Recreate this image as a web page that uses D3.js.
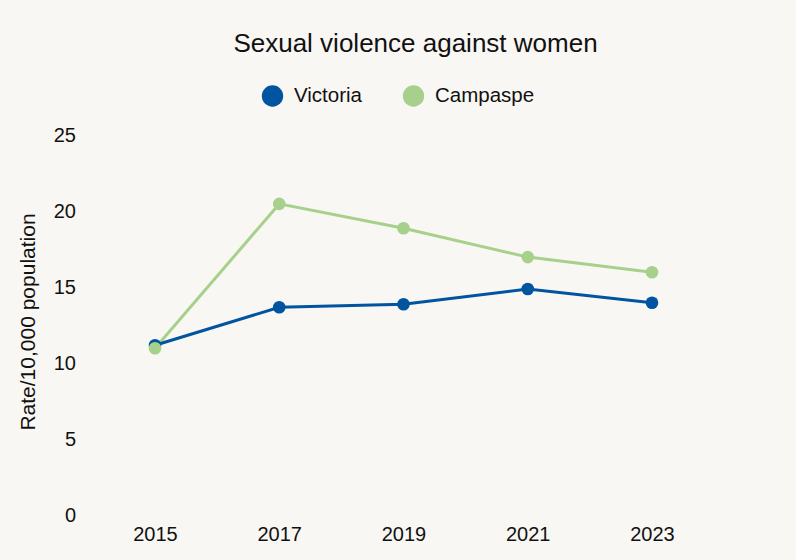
<!DOCTYPE html>
<html><head><meta charset="utf-8">
<script src="https://cdn.jsdelivr.net/npm/d3@7"></script>
<style>body{margin:0;background:#f9f7f3;}svg{display:block;}text{font-family:"Liberation Sans",Arial,sans-serif;fill:#111;}</style>
</head><body>
<svg id="c" width="796" height="560"></svg>
<script>
const years = ["2015","2017","2019","2021","2023"];
const victoria = [11.2, 13.7, 13.9, 14.9, 14.0];
const campaspe = [11.0, 20.5, 18.9, 17.0, 16.0];
const yTicks = [0,5,10,15,20,25];
const seriesNames = ["Victoria","Campaspe"];
const colors = ["#0054a0","#a8d08d"];

const svg = d3.select("#c");
svg.append("rect").attr("width",796).attr("height",560).attr("fill","#f9f7f3");
const x = d3.scalePoint().domain(years).range([155,652]);
const y = d3.scaleLinear().domain([0,25]).range([515.5,135.5]);

svg.append("text").attr("x",415.5).attr("y",52).attr("text-anchor","middle")
  .style("font-size","26px").text("Sexual violence against women");

// legend
const leg = [{x:272.5},{x:413.5}];
seriesNames.forEach((n,i)=>{
  svg.append("circle").attr("cx",leg[i].x).attr("cy",96).attr("r",10.7).attr("fill",colors[i]);
  svg.append("text").attr("x",leg[i].x+21.5).attr("y",102).style("font-size","20.5px").text(n);
});

// y axis
const ya = svg.append("g").attr("transform","translate(76,0)")
  .call(d3.axisLeft(y).tickValues(yTicks).tickSize(0).tickPadding(0));
ya.select(".domain").remove();
ya.selectAll("text").style("font-size","20px").style("font-family","'Liberation Sans',Arial,sans-serif").attr("fill","#111");

const xa = svg.append("g").attr("transform","translate(0,527)")
  .call(d3.axisBottom(x).tickSize(0).tickPadding(0));
xa.select(".domain").remove();
xa.selectAll("text").style("font-size","20px").style("font-family","'Liberation Sans',Arial,sans-serif").attr("fill","#111");

svg.append("text").attr("transform","translate(35,322) rotate(-90)").attr("text-anchor","middle")
  .style("font-size","21px").text("Rate/10,000 population");

const line = d3.line().x((d,i)=>x(years[i])).y(d=>y(d));
[campaspe, victoria].forEach((s,k)=>{
  const c = k===0?colors[1]:colors[0];
  svg.append("path").datum(s).attr("d",line).attr("fill","none").attr("stroke",c).attr("stroke-width",3);
});
[victoria, campaspe].forEach((s,k)=>{
  svg.append("g").selectAll("circle").data(s).join("circle")
    .attr("cx",(d,i)=>x(years[i])).attr("cy",d=>y(d)).attr("r",6.3).attr("fill",colors[k]);
});
</script>
</body></html>
